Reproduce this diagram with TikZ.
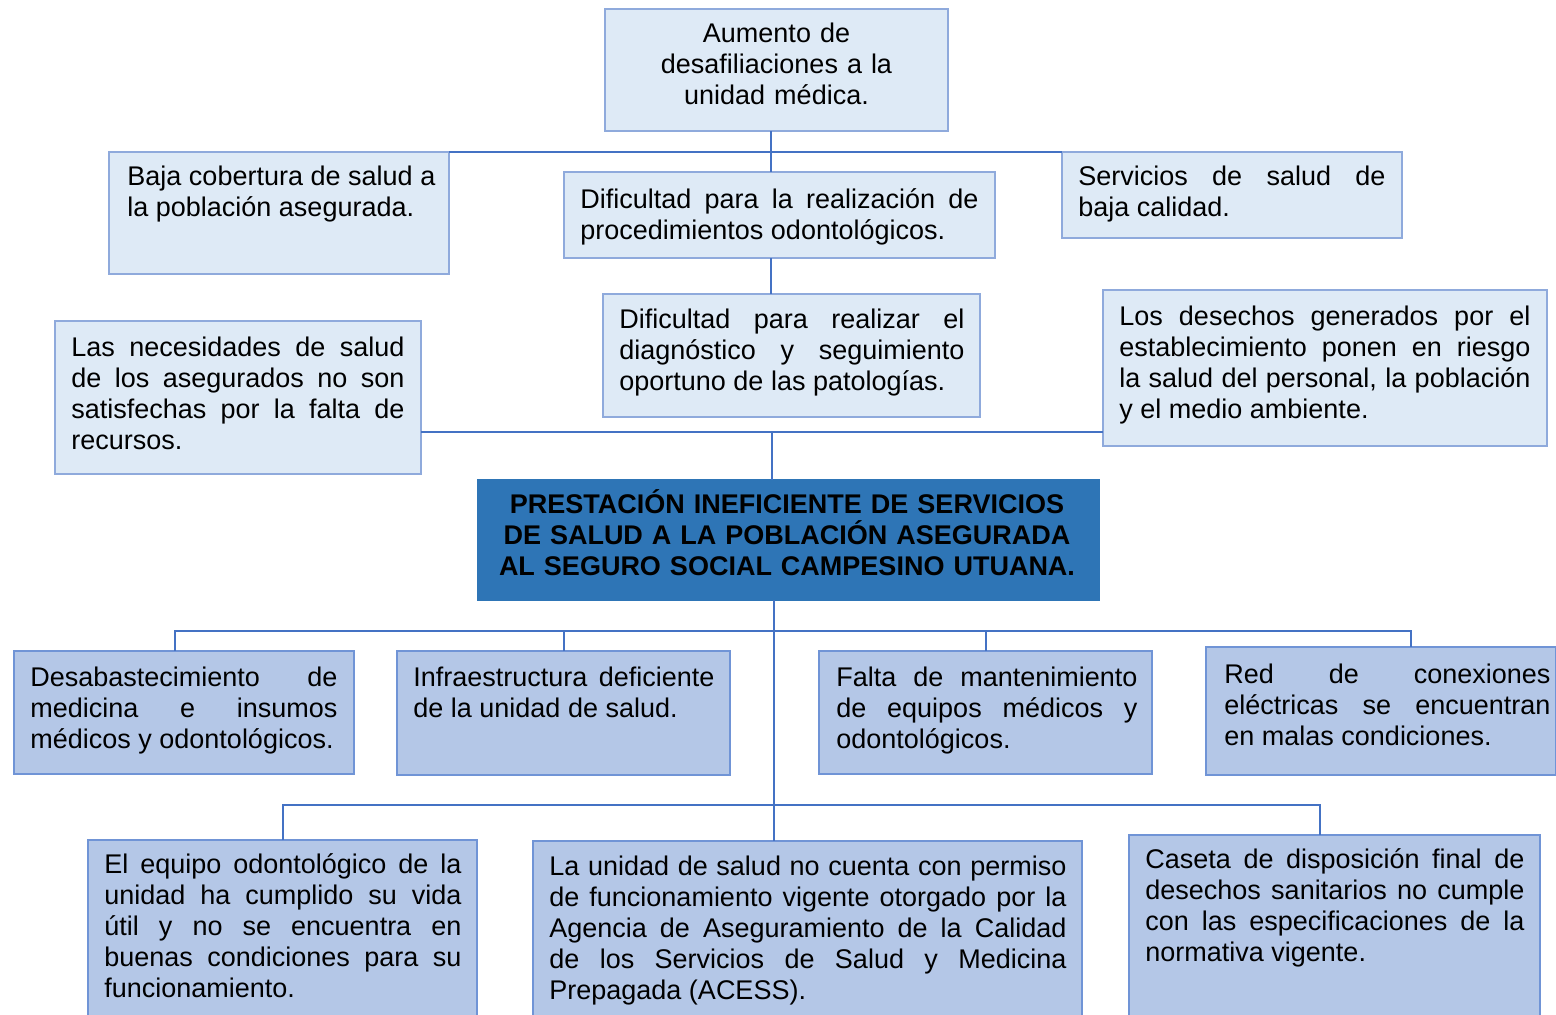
\documentclass[tikz,border=0pt]{standalone}
\usepackage{fontspec}
\setmainfont{Liberation Sans}

\definecolor{celeste}{HTML}{DEEAF6}
\definecolor{bordeceleste}{HTML}{8FAADC}
\definecolor{azulmedio}{HTML}{B4C7E7}
\definecolor{bordemedio}{HTML}{7094D6}
\definecolor{azulfuerte}{HTML}{2E75B6}
\definecolor{linea}{HTML}{4472C4}

\newcommand\letra{\fontsize{13.5}{15.6}\selectfont
  \spaceskip=.278em plus 3em minus .1em\relax
  \hyphenpenalty=10000\relax\tolerance=10000\relax}

\begin{document}
\begin{tikzpicture}[x=0.5pt,y=-0.5pt,
  efecto/.style={draw=bordeceleste,fill=celeste,line width=0.8pt,inner sep=0pt,outer sep=0pt,anchor=north west},
  causa/.style={draw=bordemedio,fill=azulmedio,line width=0.8pt,inner sep=0pt,outer sep=0pt,anchor=north west},
  problema/.style={draw=azulfuerte,fill=azulfuerte,line width=0.8pt,inner sep=0pt,outer sep=0pt,anchor=north west},
  texto/.style={inner sep=0pt,anchor=base west,align=justify,font=\letra},
  titulo/.style={inner sep=0pt,anchor=base,align=center,font=\letra},
  enlace/.style={draw=linea,line width=1pt}]

\clip (0,0) rectangle (1556,1014);

% efectos
\node[efecto,minimum width=171.5pt,minimum height=61pt] (aumento) at (605,9) {};
\node[efecto,minimum width=170pt,minimum height=61pt]   (baja)    at (109,152) {};
\node[efecto,minimum width=215.5pt,minimum height=43pt] (dific)   at (564,172) {};
\node[efecto,minimum width=170pt,minimum height=43pt]   (serv)    at (1062,152) {};
\node[efecto,minimum width=188.5pt,minimum height=61.5pt] (diag)  at (603,294) {};
\node[efecto,minimum width=183pt,minimum height=76.5pt] (nec)     at (55,321) {};
\node[efecto,minimum width=222pt,minimum height=78pt]   (desechos) at (1103,290) {};

% problema central
\node[problema,minimum width=310.5pt,minimum height=60pt] (central) at (478,480) {};

% causas
\node[causa,minimum width=170pt,minimum height=61.5pt]   (desab)  at (14,651) {};
\node[causa,minimum width=166.5pt,minimum height=62pt]   (infra)  at (397,651) {};
\node[causa,minimum width=166.5pt,minimum height=61.5pt] (falta)  at (819,651) {};
\node[causa,minimum width=175pt,minimum height=64pt]     (red)    at (1206,647) {};
\node[causa,minimum width=194.5pt,minimum height=100pt]  (equipo) at (88,840) {};
\node[causa,minimum width=274.5pt,minimum height=100pt]  (unidad) at (533,841) {};
\node[causa,minimum width=205.5pt,minimum height=100pt]  (caseta) at (1129,835) {};

% textos
\node[titulo,text width=165pt] (aumentoT) at ([yshift=-16.5pt]aumento.north)
  {Aumento de\\desafiliaciones a la\\unidad médica.};
\node[texto,text width=154pt] (bajaT) at ([shift={(9pt,-16.5pt)}]baja.north west)
  {Baja cobertura de salud a \linebreak la población asegurada.};
\node[texto,text width=199pt] (dificT) at ([shift={(8pt,-18pt)}]dific.north west)
  {Dificultad para la realización de \linebreak procedimientos odontológicos.};
\node[texto,text width=153.5pt] (servT) at ([shift={(8pt,-16.5pt)}]serv.north west)
  {Servicios de salud de \linebreak baja calidad.};
\node[texto,text width=172.5pt] (diagT) at ([shift={(8pt,-17pt)}]diag.north west)
  {Dificultad para realizar el \linebreak diagnóstico y seguimiento \linebreak oportuno de las patologías.};
\node[texto,text width=166.5pt] (necT) at ([shift={(8pt,-17.5pt)}]nec.north west)
  {Las necesidades de salud \linebreak de los asegurados no son \linebreak satisfechas por la falta de \linebreak recursos.};
\node[texto,text width=205.5pt] (desechosT) at ([shift={(8pt,-17.5pt)}]desechos.north west)
  {Los desechos generados por el \linebreak establecimiento ponen en riesgo \linebreak la salud del personal, la población \linebreak y el medio ambiente.};
\node[titulo,text width=305pt,font=\letra\bfseries] (centralT) at ([shift={(-0.75pt,-16.5pt)}]central.north)
  {PRESTACIÓN INEFICIENTE DE SERVICIOS\\DE SALUD A LA POBLACIÓN ASEGURADA\\AL SEGURO SOCIAL CAMPESINO UTUANA.};
\node[texto,text width=153.5pt] (desabT) at ([shift={(8pt,-17.5pt)}]desab.north west)
  {Desabastecimiento de \linebreak medicina e insumos \linebreak médicos y odontológicos.};
\node[texto,text width=150.5pt] (infraT) at ([shift={(8pt,-17.5pt)}]infra.north west)
  {Infraestructura deficiente \linebreak de la unidad de salud.};
\node[texto,text width=150.5pt] (faltaT) at ([shift={(8.5pt,-17.5pt)}]falta.north west)
  {Falta de mantenimiento \linebreak de equipos médicos y \linebreak odontológicos.};
\node[texto,text width=163pt] (redT) at ([shift={(9pt,-18pt)}]red.north west)
  {Red de conexiones \linebreak eléctricas se encuentran \linebreak en malas condiciones.};
\node[texto,text width=178.5pt] (equipoT) at ([shift={(8pt,-16.5pt)}]equipo.north west)
  {El equipo odontológico de la \linebreak unidad ha cumplido su vida \linebreak útil y no se encuentra en \linebreak buenas condiciones para su \linebreak funcionamiento.};
\node[texto,text width=258.5pt] (unidadT) at ([shift={(8pt,-17pt)}]unidad.north west)
  {La unidad de salud no cuenta con permiso \linebreak de funcionamiento vigente otorgado por la \linebreak Agencia de Aseguramiento de la Calidad \linebreak de los Servicios de Salud y Medicina \linebreak Prepagada (ACESS).};
\node[texto,text width=189.5pt] (casetaT) at ([shift={(8pt,-16.5pt)}]caseta.north west)
  {Caseta de disposición final de \linebreak desechos sanitarios no cumple \linebreak con las especificaciones de la \linebreak normativa vigente.};

% uniones
\coordinate (unionA) at (772,432);
\coordinate (unionB) at (774,631);
\coordinate (unionC) at (776,805);

\draw[enlace] ([xshift=-3pt]aumento.south) -- ([xshift=-3pt]aumento.south |- dific.north);
\draw[enlace] (baja.north east) -- (serv.north west);
\draw[enlace] ([xshift=-4.5pt]dific.south) -- ([xshift=-4.5pt]dific.south |- diag.north);
\draw[enlace] (nec.east |- unionA) -- (desechos.west |- unionA);
\draw[enlace] (unionA) -- (unionA |- central.north);

\draw[enlace] (unionB |- central.south) -- (unionB |- unidad.north);
\draw[enlace] ([xshift=-4.5pt]desab.north) |- (unionB) -| ([xshift=15pt]red.north);
\draw[enlace] (infra.north) -- (infra.north |- unionB);
\draw[enlace] (falta.north) -- (falta.north |- unionB);
\draw[enlace] (equipo.north) |- (unionC) -| ([xshift=-7.5pt]caseta.north);

\end{tikzpicture}
\end{document}
